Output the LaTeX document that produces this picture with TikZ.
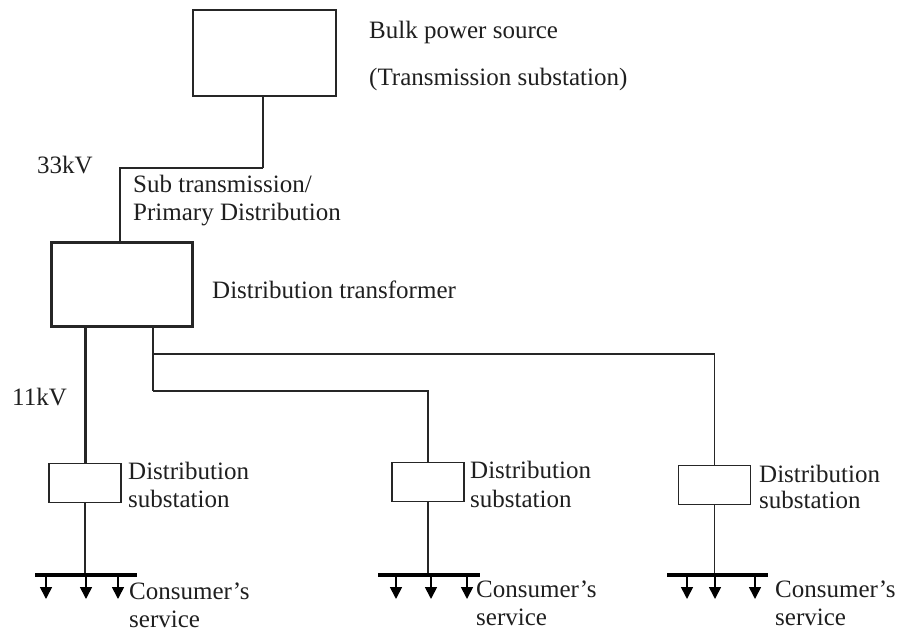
\documentclass[tikz,border=0pt]{standalone}
\usepackage{fontspec}
\setmainfont{Liberation Serif}
\usetikzlibrary{arrows.meta}
\begin{document}
\begin{tikzpicture}[x=1pt,y=-1pt,
  lbl/.style={anchor=base west,inner sep=0pt,font=\fontsize{25}{28}\selectfont,text=black!88},
  bigbox/.style={draw=black!85,line width=2.5pt,inner sep=0pt,minimum width=143pt,minimum height=86pt},
  subbox/.style={draw=black!85,line width=1.7pt,inner sep=0pt,minimum width=72pt,minimum height=39pt},
  wire/.style={draw=black!85,line width=1.7pt},
  hvwire/.style={draw=black!85,line width=3pt},
  busbar/.style={draw=black,line width=4pt},
  drop/.style={draw=black,line width=1.7pt,-{Triangle[width=12pt,length=12pt]}}]
\useasboundingbox (0,0) rectangle (899,632);

% boxes
\node[bigbox] (bulk) at (264.5,53) {};
\node[bigbox,minimum width=141pt,minimum height=84pt] (trans) at (122,284.5) {};
\node[subbox] (sub1) at (85,483) {};
\node[subbox] (sub2) at (428,482) {};
\node[subbox] (sub3) at (714.5,485) {};

% labels
\node[lbl] (tb1) at (369,38) {Bulk power source};
\node[lbl] (tb2) at (369,85) {(Transmission substation)};
\node[lbl] (v33) at (37,173) {33kV};
\node[lbl] (st1) at (133,192) {Sub transmission/};
\node[lbl] (st2) at (133,220) {Primary Distribution};
\node[lbl] (dt) at (212,298) {Distribution transformer};
\node[lbl] (v11) at (12,405) {11kV};
\node[lbl] (s1a) at (128,479) {Distribution};
\node[lbl] (s1b) at (128,507) {substation};
\node[lbl] (s2a) at (470,478) {Distribution};
\node[lbl] (s2b) at (470,507) {substation};
\node[lbl] (s3a) at (759,482) {Distribution};
\node[lbl] (s3b) at (759,508) {substation};
\node[lbl] (c1a) at (129,599) {Consumer’s};
\node[lbl] (c1b) at (129,627) {service};
\node[lbl] (c2a) at (476,597) {Consumer’s};
\node[lbl] (c2b) at (476,625) {service};
\node[lbl] (c3a) at (775,597) {Consumer’s};
\node[lbl] (c3b) at (775,625) {service};

% 33kV feeder
\coordinate (j1) at (263,168);
\coordinate (j2) at (120,168);
\draw[wire,line width=2.3pt] (bulk.south -| j1) -- (j1);
\draw[wire] (j1) -- (j2) -- (trans.north -| j2);

% 11kV feeders
\draw[hvwire] (trans.south -| sub1.north) -- (sub1.north);
\coordinate (b1) at (153,354);
\coordinate (b2) at (153,391);
\draw[wire,line width=2pt] (trans.south -| b1) -- (b2);
\draw[wire] (b2) -| (sub2.north);
\draw[wire] (b1) -| (sub3.north);

% buses
\coordinate (k1) at (85,575);
\coordinate (k2) at (428,575);
\coordinate (k3) at (714.5,575);
\draw[wire] (sub1.south) -- (k1);
\draw[wire] (sub2.south) -- (k2);
\draw[wire] (sub3.south) -- (k3);
\coordinate (L1) at (35,575); \coordinate (R1) at (137,575);
\coordinate (L2) at (378,575); \coordinate (R2) at (480,575);
\coordinate (L3) at (667,575); \coordinate (R3) at (768,575);
\draw[busbar] (L1) -- (R1);
\draw[busbar] (L2) -- (R2);
\draw[busbar] (L3) -- (R3);

% consumer drops
\foreach \x/\n in {46/a1,86/a2,118/a3,396/b1,431/b2,467/b3,687/c1,715/c2,755/c3}{
  \coordinate (t\n) at (\x,575);
  \coordinate (e\n) at (\x,599);
  \draw[drop] (t\n) -- (e\n);
}
\end{tikzpicture}
\end{document}
